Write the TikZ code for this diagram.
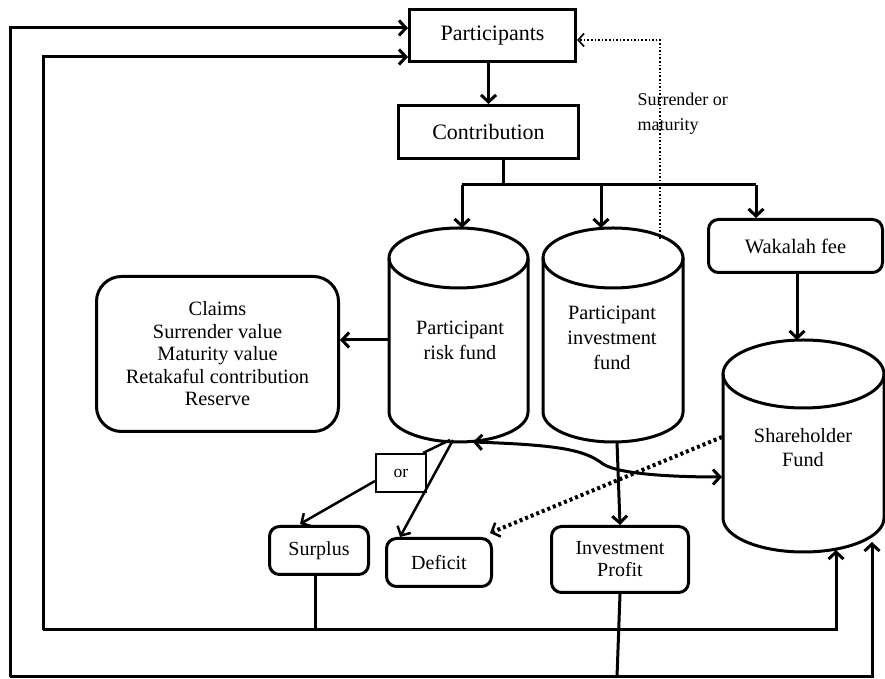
\documentclass[tikz,border=0pt]{standalone}
\usepackage{fontspec}
\setmainfont{Liberation Serif}
\usetikzlibrary{arrows.meta}
\begin{document}
\begin{tikzpicture}[x=1pt,y=1pt,line width=3pt,
  >={Straight Barb[length=7pt,width=15pt]},
  box/.style={draw,line width=3pt,inner sep=0pt,align=center},
  rbox/.style={box,rounded corners=10pt},
  txt/.style={align=center,inner sep=0pt},
  dotarrow/.style={dotted,line width=1.6pt,-{Straight Barb[length=6pt,width=13pt]}},
  thickdots/.style={line width=4pt,dash pattern=on 3pt off 3pt,-{Straight Barb[length=7pt,width=15pt,line width=2.5pt]}}]
\useasboundingbox (0,0) rectangle (885,679);

% boxes
\node[box,minimum width=166pt,minimum height=52pt,font=\fontsize{22}{26}\selectfont] (part) at (492.5,643.5) {Participants};
\node[box,minimum width=180pt,minimum height=53pt,font=\fontsize{22}{26}\selectfont] (contr) at (488.5,547) {Contribution};
\node[rbox,minimum width=174pt,minimum height=53pt,font=\fontsize{20.5}{24}\selectfont] (wak) at (795.5,433) {Wakalah fee};
\node[box,rounded corners=25pt,minimum width=242pt,minimum height=155pt,font=\fontsize{20.3}{22.5}\selectfont] (claims) at (217.5,325)
  {Claims\\Surrender value\\Maturity value\\Retakaful contribution\\Reserve};
\node[box,line width=2.5pt,minimum width=50pt,minimum height=38pt,font=\fontsize{17.5}{20}\selectfont] (or) at (401,206) {or};
\node[rbox,minimum width=99pt,minimum height=48pt,font=\fontsize{20}{22}\selectfont] (surplus) at (319,128.5) {Surplus};
\node[rbox,minimum width=105pt,minimum height=48pt,font=\fontsize{20}{22}\selectfont] (deficit) at (439,116.5) {Deficit};
\node[rbox,minimum width=137pt,minimum height=66pt,font=\fontsize{20}{22}\selectfont] (profit) at (620,119.5) {Investment\\Profit};

% cylinders
\draw (389,421) -- (389,267) arc[start angle=180,end angle=360,x radius=69.5,y radius=30] -- (528,421);
\draw (458.5,421) ellipse[x radius=69.5,y radius=30];
\node[txt,font=\fontsize{20.3}{25}\selectfont] (risk) at (460,339) {Participant\\risk fund};
\draw (543,421) -- (543,267) arc[start angle=180,end angle=360,x radius=70,y radius=30] -- (683,421);
\draw (613,421) ellipse[x radius=70,y radius=30];
\node[txt,font=\fontsize{20.3}{25}\selectfont] (inv) at (612,341) {Participant\\investment\\fund};
\draw (723,305) -- (723,161) arc[start angle=180,end angle=360,x radius=80.5,y radius=34] -- (884,305);
\draw (803.5,305) ellipse[x radius=80.5,y radius=34];
\node[txt,font=\fontsize{20.3}{24}\selectfont] (share) at (803,231) {Shareholder\\Fund};

% named points
\coordinate (split) at (503,494);
\coordinate (b1) at (462,494);
\coordinate (b2) at (601,494);
\coordinate (b3) at (756,494);
\coordinate (riskTop) at (462,451);
\coordinate (invTop) at (601,451);
\coordinate (riskW) at (389,339);
\coordinate (riskB1) at (450,239);
\coordinate (riskB2) at (453,239);
\coordinate (riskB3) at (473,237);
\coordinate (invB) at (617,237);
\coordinate (invTR) at (660,440);
\coordinate (dotCorner) at (660,639);
\coordinate (wakB) at (797,406);
\coordinate (shareTop) at (797,339);
\coordinate (shareW1) at (722,202);
\coordinate (shareW2) at (722,242);
\coordinate (orTop) at (423,226);
\coordinate (orW) at (375,198);
\coordinate (surTop) at (300,155);
\coordinate (defTop) at (400,142);
\coordinate (defTR) at (490,146);
\coordinate (surB) at (315,103);
\coordinate (sL) at (315,49);
\coordinate (lineL) at (43,49);
\coordinate (lineR) at (836,49);
\coordinate (shareB1) at (836,129);
\coordinate (outL) at (10,2);
\coordinate (outR) at (872,2);
\coordinate (shareB2) at (872,137);
\coordinate (profB) at (617,2);

% connectors
\draw[->] (part.south -| contr.north) -- (contr.north);
\draw (contr.south -| split) -- (split);
\draw (b1) -- (b3);
\draw[->] (b1) -- (riskTop);
\draw[->] (b2) -- (invTop);
\draw[->] (b3) -- (b3 |- wak.north);
\draw[->] (wakB) -- (shareTop);
\draw[->] (riskW) -- (riskW -| claims.east);
\draw[dotarrow] (invTR) -- (dotCorner) -- (dotCorner -| part.east);
\node[anchor=base west,inner sep=0pt,align=left,font=\fontsize{18}{25}\selectfont] (surr) at (636,548) {Surrender or\\maturity};

\draw[line width=2.5pt] (riskB1) -- (orTop);
\draw[line width=2.5pt,->] (orW) -- (surTop);
\draw[line width=2.5pt,->] (riskB2) -- (defTop);
\draw[->] (invB) -- (profit.north);
\draw[<->] (riskB3) .. controls (560,234) and (585,229) .. (603,215) .. controls (620,204) and (680,202) .. (shareW1);
\draw[thickdots] (shareW2) -- (defTR);

\draw (surplus.south -| surB) -- (sL);
\draw[->] (lineL) -- (lineR) -- (shareB1);
\draw[->] (lineL) -- (lineL |- 0,622) -- (part.west |- 0,622);
\draw[->] (outL) -- (outR) -- (shareB2);
\draw[->] (outL) -- (outL |- 0,651) -- (part.west |- 0,651);
\draw (profit.south) -- (profB);
\end{tikzpicture}
\end{document}
